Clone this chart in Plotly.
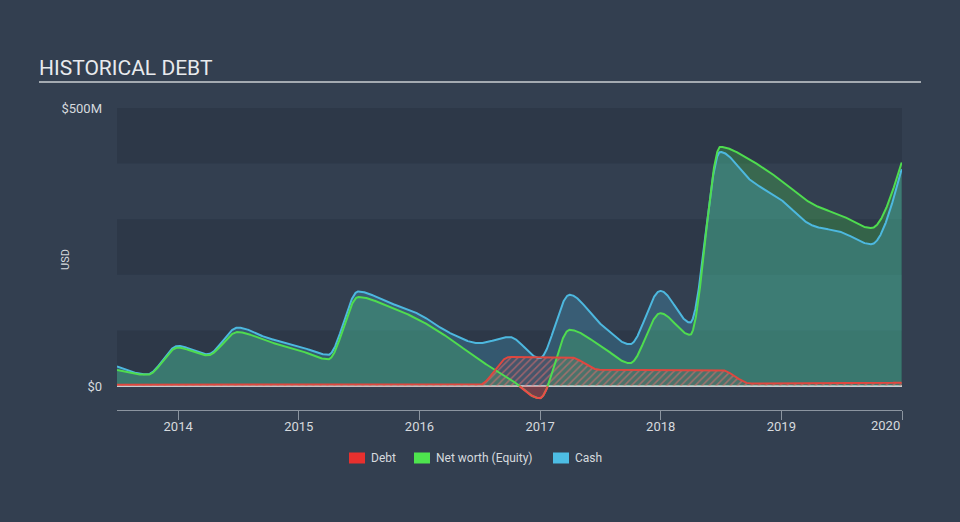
import numpy as np
import pandas as pd
import plotly.graph_objects as go

# ---------------- data (USD millions, quarterly) ----------------
dates = ["2013-06-30", "2013-09-30", "2013-12-31", "2014-03-31", "2014-06-30",
         "2014-09-30", "2014-12-31", "2015-03-31", "2015-06-30", "2015-09-30",
         "2015-12-31", "2016-03-31", "2016-06-30", "2016-09-30", "2016-12-31",
         "2017-03-31", "2017-06-30", "2017-09-30", "2017-12-31", "2018-03-31",
         "2018-06-30", "2018-09-30", "2018-12-31", "2019-03-31", "2019-06-30",
         "2019-09-30", "2019-12-31"]
cash = [35, 21, 72, 57, 105, 86, 72, 56, 170, 150, 129, 96, 77, 88, 50,
        164, 113, 75, 171, 114, 421, 370, 335, 290, 277, 255, 390]
equity = [29, 20, 69, 55, 97, 80, 65, 48, 160, 143, 119, 86, 47, 14, -22,
          101, 74, 41, 131, 92, 430, 406, 370, 329, 307, 284, 402]
debt = [2, 2, 2, 2, 2, 2, 2, 2, 2, 2, 2, 2, 2, 52, 52,
        52, 29, 29, 29, 29, 29, 4.5, 4.5, 5, 5, 5.5, 6]
tick_years = [2014, 2015, 2016, 2017, 2018, 2019, 2020]
y_ticks = [0, 500]
y_labels = ["$0", "$500M"]
legend_names = ["Debt", "Net worth (Equity)", "Cash"]
legend_colors = ["#e8302e", "#4ee44e", "#4dbde4"]

# ---------------- helpers ----------------
def dec_year(s):
    d = pd.Timestamp(s)
    start = pd.Timestamp(d.year, 1, 1)
    nxt = pd.Timestamp(d.year + 1, 1, 1)
    return d.year + (d - start) / (nxt - start)


def monotone(xs, ys, xq):
    """Monotone cubic (d3 curveMonotoneX style) interpolation."""
    xs = np.asarray(xs, float)
    ys = np.asarray(ys, float)
    n = len(xs)
    h = np.diff(xs)
    s = np.diff(ys) / h
    t = np.zeros(n)
    for i in range(1, n - 1):
        h0, h1 = h[i - 1], h[i]
        s0, s1 = s[i - 1], s[i]
        p = (s0 * h1 + s1 * h0) / (h0 + h1)
        sg0 = -1 if s0 < 0 else 1
        sg1 = -1 if s1 < 0 else 1
        t[i] = (sg0 + sg1) * min(abs(s0), abs(s1), 0.5 * abs(p))
    t[0] = (3 * s[0] - t[1]) / 2
    t[-1] = (3 * s[-1] - t[-2]) / 2
    idx = np.clip(np.searchsorted(xs, xq, side="right") - 1, 0, n - 2)
    x0 = xs[idx]
    hh = h[idx]
    u = (xq - x0) / hh
    h00 = 2 * u**3 - 3 * u**2 + 1
    h10 = u**3 - 2 * u**2 + u
    h01 = -2 * u**3 + 3 * u**2
    h11 = u**3 - u**2
    return h00 * ys[idx] + h10 * hh * t[idx] + h01 * ys[idx + 1] + h11 * hh * t[idx + 1]


xs = np.array([dec_year(d) for d in dates])
xq = np.unique(np.concatenate([np.linspace(xs[0], xs[-1], 3000), xs]))
cash_s = monotone(xs, cash, xq)
eq_s = monotone(xs, equity, xq)
debt_s = monotone(xs, debt, xq)

eq_pos = np.maximum(eq_s, 0)
eq_neg = np.minimum(eq_s, 0)
eq_neg_line = [v if v < 0 else None for v in eq_s]

BG = "#333f50"
BAND = "#2d3848"
CASH_C = "#4db8df"
EQ_C = "#4fdc4f"
DEBT_C = "#e0473f"
TXT = "#d6dade"
AXIS_C = "#8c95a0"

# plot-area geometry in page pixels (for layout elements placed outside it)
PL, PR, PT, PB = 117, 902, 108, 410
def px_x(p):
    return (p - PL) / (PR - PL)
def px_y(p):
    return (PB - p) / (PB - PT)

x_end = max(xs[-1], float(tick_years[-1]))

fig = go.Figure()

# fills
fig.add_trace(go.Scatter(x=xq, y=eq_pos, mode="lines", line=dict(width=0),
                         fill="tozeroy", fillcolor="rgba(76,226,76,0.25)",
                         showlegend=False, hoverinfo="skip"))
fig.add_trace(go.Scatter(x=xq, y=cash_s, mode="lines", line=dict(width=0),
                         fill="tozeroy", fillcolor="rgba(76,185,226,0.25)",
                         showlegend=False, hoverinfo="skip"))
fig.add_trace(go.Scatter(x=xq, y=eq_neg, mode="lines", line=dict(width=0),
                         fill="tozeroy", fillcolor="rgba(232,64,64,0.35)",
                         showlegend=False, hoverinfo="skip"))
fig.add_trace(go.Scatter(x=xq, y=debt_s, mode="lines", line=dict(width=0),
                         fill="tozeroy",
                         fillpattern=dict(shape="/", size=5, solidity=0.3,
                                          fgcolor="rgba(230,110,110,0.55)",
                                          bgcolor="rgba(232,64,64,0.10)",
                                          fillmode="replace"),
                         showlegend=False, hoverinfo="skip"))

# lines
fig.add_trace(go.Scatter(x=xq, y=cash_s, mode="lines",
                         line=dict(color=CASH_C, width=2),
                         showlegend=False, hoverinfo="skip"))
fig.add_trace(go.Scatter(x=xq, y=eq_s, mode="lines",
                         line=dict(color=EQ_C, width=2),
                         showlegend=False, hoverinfo="skip"))
fig.add_trace(go.Scatter(x=xq, y=eq_neg_line, mode="lines",
                         line=dict(color="#f04848", width=2), connectgaps=False,
                         showlegend=False, hoverinfo="skip"))
fig.add_trace(go.Scatter(x=xq, y=debt_s, mode="lines",
                         line=dict(color=DEBT_C, width=2),
                         showlegend=False, hoverinfo="skip"))

shapes = []
for lo in (0, 200, 400):
    shapes.append(dict(type="rect", xref="paper", yref="y", x0=0, x1=1,
                       y0=lo, y1=lo + 100, fillcolor=BAND, line=dict(width=0),
                       layer="below"))
# title underline
shapes.append(dict(type="line", xref="paper", yref="paper",
                   x0=px_x(39), x1=px_x(921), y0=px_y(82), y1=px_y(82),
                   line=dict(color="#a4aab1", width=2)))

annotations = [dict(text="USD", xref="paper", yref="paper",
                    x=px_x(65), y=px_y(260), xanchor="center", yanchor="middle",
                    textangle=-90, showarrow=False,
                    font=dict(size=11, color=TXT))]

# last year label is right-aligned to its tick (kept inside the chart)
annotations.append(dict(text=str(tick_years[-1]), xref="x", yref="paper",
                        x=tick_years[-1], y=px_y(425.5), xanchor="right",
                        yanchor="middle", showarrow=False,
                        font=dict(size=13, color=TXT)))

# manual legend (square swatch + label)
legend_sq_left = [349, 414, 553]
for name, col, sx in zip(legend_names, legend_colors, legend_sq_left):
    shapes.append(dict(type="rect", xref="paper", yref="paper",
                       x0=px_x(sx), x1=px_x(sx + 16),
                       y0=px_y(463.5), y1=px_y(452.5),
                       fillcolor=col, line=dict(width=0)))
    annotations.append(dict(text=name, xref="paper", yref="paper",
                            x=px_x(sx + 20), y=px_y(458),
                            xanchor="left", yanchor="middle", showarrow=False,
                            font=dict(size=12, color=TXT)))

fig.update_layout(
    width=960, height=522,
    margin=dict(l=PL, r=960 - PR, t=PT, b=522 - PB, autoexpand=False),
    paper_bgcolor=BG, plot_bgcolor=BG,
    font=dict(family="Roboto", color=TXT, size=13),
    title=dict(text="HISTORICAL DEBT", x=39 / 960, xanchor="left",
               y=1 - 68 / 522, yanchor="middle",
               font=dict(family="Roboto", size=21, color="#e8eaed")),
    shapes=shapes,
    annotations=annotations,
    showlegend=False,
)

fig.update_xaxes(range=[xs[0], x_end], tickvals=tick_years,
                 ticktext=[str(y) for y in tick_years[:-1]] + [""],
                 showgrid=False, zeroline=False, showline=True,
                 linecolor=AXIS_C, linewidth=1,
                 ticks="outside", ticklen=9, tickcolor=AXIS_C,
                 ticklabelstandoff=-5,
                 tickfont=dict(size=13, color=TXT), fixedrange=True)
fig.update_yaxes(range=[-43.2, 500], tickvals=y_ticks, ticktext=y_labels,
                 showgrid=False, zeroline=True, zerolinecolor="#c9cdd2",
                 zerolinewidth=2, showline=False, ticks="",
                 ticklabelstandoff=14,
                 tickfont=dict(size=13, color=TXT), fixedrange=True)

fig.write_html("out.html")
